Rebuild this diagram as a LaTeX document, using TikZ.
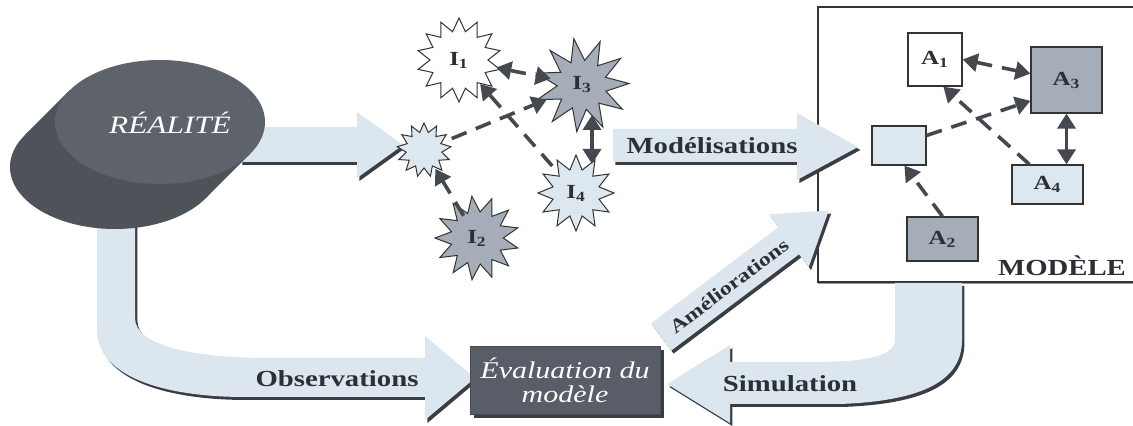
\documentclass[tikz,border=0pt]{standalone}
\usepackage{fontspec}
\setmainfont{Liberation Serif}[FakeStretch=1.25]
\usetikzlibrary{positioning,arrows.meta,shapes.geometric}

\definecolor{flowfill}{HTML}{DCE6EF}
\definecolor{flowshadow}{HTML}{3A3D43}
\definecolor{blobside}{HTML}{4E5259}
\definecolor{blobtop}{HTML}{5E626A}
\definecolor{evalfill}{HTML}{595D67}
\definecolor{linkgrey}{HTML}{45484F}
\definecolor{darknode}{HTML}{A4ADB8}
\definecolor{lightnode}{HTML}{DDE7F0}
\definecolor{inktext}{HTML}{2C2F36}

\tikzset{
  flow/.style={fill=flowfill,
    preaction={fill=flowshadow, transform canvas={xshift=1.2pt,yshift=-1.5pt}}},
  flowlabel/.style={font=\fontsize{11.5}{13}\selectfont\bfseries, text=inktext, inner sep=0pt},
  abox/.style={draw=black!80, line width=0.6pt, inner sep=0pt,
    font=\fontsize{10}{12}\selectfont\bfseries, text=inktext},
  burst/.style={star, draw=black!80, line width=0.5pt, inner sep=0pt,
    font=\fontsize{10}{12}\selectfont\bfseries, text=inktext},
  dashlink/.style={draw=linkgrey, line width=1.8pt, dash pattern=on 8pt off 5pt},
  solidlink/.style={draw=linkgrey, line width=1.8pt, <->},
}

\begin{document}
\begin{tikzpicture}[x=0.5pt, y=-0.5pt, >={Triangle[length=7.5pt,width=9pt]}]
        \useasboundingbox (0,0) rectangle (1133,426);

        \draw (979,144.5) node[draw=black!80, line width=0.6pt, fill=white, inner sep=0pt,
        minimum width=161pt, minimum height=137.5pt,
        preaction={fill=black!40, transform canvas={yshift=-1.2pt}}] (modele) {};

        \draw (1062,266) node[flowlabel] (modlabel) {MODÈLE};

        \path[flow] (240,127) -- (357,127) -- (357,112) -- (403,145) -- (357,178)
        -- (357,162) -- (240,162) -- cycle;

        \path[flow] (97,200) -- (97,330) .. controls (97,375) and (160,397) .. (245,397)
        -- (425,397) -- (425,420) -- (475,378) -- (425,336) -- (425,358) -- (262,358)
        .. controls (190,357) and (135,345) .. (135,318) -- (135,200) -- cycle;

        \fill[blobside] (115,167) ellipse [x radius=52.5pt, y radius=31pt];

        \fill[blobside] (250.4,153.6) -- (205.4,198.6) -- (24.6,135.4) -- (69.6,90.4) -- cycle;

        \fill[blobtop] (160,122) ellipse [x radius=52.5pt, y radius=31pt];

        \draw (170,123) node[font=\fontsize{12.5}{14}\selectfont\itshape, text=white] (realite) {RÉALITÉ};

        \draw (337,379) node[flowlabel] (obs) {Observations};

        \draw (459,60) node[burst, fill=white, star points=14, star point ratio=1.45,
        minimum size=42pt] (I1) {I\textsubscript{1}};

        \draw (582,85) node[burst, fill=darknode, star points=11, star point ratio=1.9,
        minimum size=47pt, shape border rotate=10] (I3) {I\textsubscript{3}};

        \draw (424,150) node[burst, fill=lightnode, star points=13, star point ratio=1.5,
        minimum size=27pt] (B) {};

        \draw (576,193) node[burst, fill=lightnode, star points=12, star point ratio=1.6,
        minimum size=38pt] (I4) {I\textsubscript{4}};

        \draw (477,238) node[burst, fill=darknode, star points=13, star point ratio=1.6,
        minimum size=42pt, shape border rotate=7] (I2) {I\textsubscript{2}};

        \draw[dashlink, <->, shorten <=19pt, shorten >=16pt] (I1.center) to (I3.center);

        \draw[dashlink, ->, shorten <=15pt, shorten >=19pt] (B.center) to (I3.center);

        \draw[dashlink, ->, shorten <=18pt, shorten >=16pt] (I4.center) to (I1.center);

        \draw[dashlink, ->, shorten <=13pt, shorten >=11pt] (I2.center) to (B.center);

        \draw[solidlink] ([xshift=5pt,yshift=-15pt]I3.center) to ([xshift=8pt,yshift=14.5pt]I4.center);

        \path[flow] (613,129) -- (797,129) -- (797,113) -- (858,147) -- (797,180)
        -- (797,162) -- (613,162) -- cycle;

        \draw (712,146) node[flowlabel] (model) {Modélisations};

        \path[flow] (650.8,323.4) -- (778.6,227.1) -- (768.9,214.3) -- (828.7,210.6)
        -- (808.7,267.1) -- (799.0,254.3) -- (671.2,350.6) -- cycle;

        \draw (729,286) node[flowlabel, font=\fontsize{9.5}{11}\selectfont\bfseries, rotate=37] (amel) {Améliorations};

        \path[flow] (895,283) -- (895,340) .. controls (895,357) and (862,362) .. (815,362)
        -- (730,362) -- (730,345) -- (667,384) -- (730,423) -- (730,404) -- (840,404)
        .. controls (920,401) and (962,382) .. (962,340) -- (962,283) -- cycle;

        \draw (790,384) node[flowlabel] (simu) {Simulation};

        \draw (935,59.5) node[abox, fill=white, minimum width=27pt, minimum height=26.5pt] (A1) {A\textsubscript{1}};

        \draw (1066.5,80) node[abox, fill=darknode, minimum width=35.5pt, minimum height=33pt] (A3) {A\textsubscript{3}};

        \draw (899,145.5) node[abox, fill=lightnode, minimum width=27pt, minimum height=19.5pt] (M0) {};

        \draw (1047.5,184.5) node[abox, fill=lightnode, minimum width=35.5pt, minimum height=19.5pt] (A4) {A\textsubscript{4}};

        \draw (942.5,239) node[abox, fill=darknode, minimum width=35.5pt, minimum height=22pt] (A2) {A\textsubscript{2}};

        \draw[dashlink, <->] (A1.east) to (A3.170);

        \draw[dashlink, ->] (M0.20) to (A3.210);

        \draw[dashlink, ->] (A4.132) to (A1.-73);

        \draw[dashlink, ->] (A2.north) to (M0.-75);

        \draw[solidlink] (A3.south) to (A3.south |- A4.north);

        \draw (565,380) node[fill=evalfill, draw=black!70, line width=0.4pt, align=center,
        minimum width=95pt, minimum height=34pt, inner sep=0pt, text=white!90!lightnode,
        font=\fontsize{12}{12}\selectfont\itshape,
        preaction={fill=flowshadow, transform canvas={xshift=2pt,yshift=-2pt}}] (eval) {Évaluation du\\modèle};
\end{tikzpicture}
\end{document}
